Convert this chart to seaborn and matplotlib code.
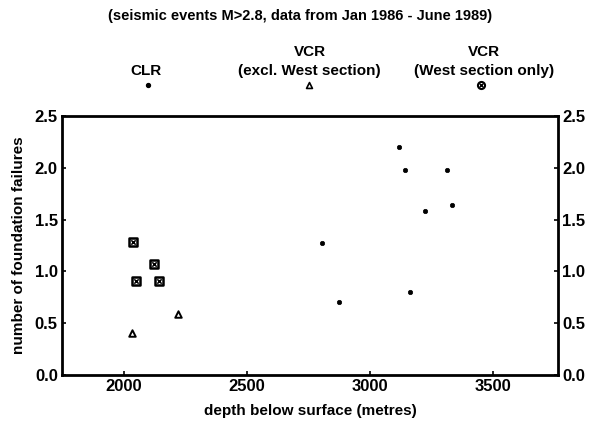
import matplotlib
matplotlib.use("Agg")
import matplotlib.pyplot as plt
import seaborn as sns
import pandas as pd

# CLR events
clr_depth = [2807, 2876, 3118, 3143, 3316, 3224, 3333, 3165]
clr_fail = [1.27, 0.70, 2.20, 1.98, 1.98, 1.58, 1.64, 0.80]
# VCR, excluding the West section
vcr_depth = [2035, 2223]
vcr_fail = [0.41, 0.59]
# VCR, West section only
west_depth = [2040, 2124, 2050, 2145]
west_fail = [1.28, 1.07, 0.91, 0.91]

y_ticks = [0.0, 0.5, 1.0, 1.5, 2.0, 2.5]
x_ticks = [2000, 2500, 3000, 3500]

sns.set_theme(style="white")
plt.rcParams["font.family"] = ["Liberation Sans", "DejaVu Sans"]
plt.rcParams["text.color"] = "black"
plt.rcParams["axes.labelcolor"] = "black"
plt.rcParams["xtick.color"] = "black"
plt.rcParams["ytick.color"] = "black"

fig = plt.figure(figsize=(5.94, 4.25), dpi=100)
ax = fig.add_axes([0.1044, 0.1176, 0.835, 0.6095])

clr = pd.DataFrame({"depth": clr_depth, "fail": clr_fail})
vcr = pd.DataFrame({"depth": vcr_depth, "fail": vcr_fail})
west = pd.DataFrame({"depth": west_depth, "fail": west_fail})

sns.scatterplot(data=clr, x="depth", y="fail", ax=ax, marker="o", s=10,
                color="black", edgecolor="black", linewidth=0.5)
sns.scatterplot(data=vcr, x="depth", y="fail", ax=ax, marker="^", s=22,
                facecolor="white", edgecolor="black", linewidth=1.4)
sns.scatterplot(data=west, x="depth", y="fail", ax=ax, marker="s", s=28,
                facecolor="white", edgecolor="black", linewidth=1.8)
sns.scatterplot(data=west, x="depth", y="fail", ax=ax, marker="x", s=10,
                color="black", linewidth=1.1)

ax.set_xlim(1750, 3765)
ax.set_ylim(0.0, 2.5)
ax.set_xticks(x_ticks)
ax.set_yticks(y_ticks)
ax.set_yticklabels([f"{v:.1f}" for v in y_ticks])
ax.set_xlabel("depth below surface (metres)", fontsize=11, labelpad=7,
              fontweight="bold")
ax.set_ylabel("number of foundation failures", fontsize=11, labelpad=6,
              fontweight="bold")

for side in ["left", "right", "top", "bottom"]:
    ax.spines[side].set_visible(True)
    ax.spines[side].set_color("black")
    ax.spines[side].set_linewidth(2.0)

ax.tick_params(axis="both", direction="in", length=3, width=1.2,
               colors="black", labelsize=12, pad=3)
ax.tick_params(axis="y", left=True, right=True, labelleft=True,
               labelright=True)
ax.tick_params(axis="x", bottom=True, top=False)
for lbl in ax.get_xticklabels() + ax.get_yticklabels():
    lbl.set_fontweight("bold")

# Title and key across the top
fig.text(0.505, 0.963, "(seismic events M>2.8, data from Jan 1986 - June 1989)",
         ha="center", va="center", fontsize=10.5, fontweight="bold")

key_y_text = 0.833
fig.text(0.246, key_y_text, "CLR", ha="center", va="center", fontsize=11,
         fontweight="bold")
fig.text(0.521, 0.877, "VCR", ha="center", va="center", fontsize=11,
         fontweight="bold")
fig.text(0.521, key_y_text, "(excl. West section)", ha="center", va="center",
         fontsize=11, fontweight="bold")
fig.text(0.815, 0.877, "VCR", ha="center", va="center", fontsize=11,
         fontweight="bold")
fig.text(0.815, key_y_text, "(West section only)", ha="center", va="center",
         fontsize=11, fontweight="bold")

key_ax = fig.add_axes([0, 0.78, 1, 0.04])
key_ax.set_xlim(0, 1)
key_ax.set_ylim(0, 1)
key_ax.axis("off")
key_ax.scatter([0.249], [0.5], marker="o", s=8, color="black")
key_ax.scatter([0.521], [0.5], marker="^", s=18, facecolor="white",
               edgecolor="black", linewidth=1.2)
key_ax.scatter([0.81], [0.5], marker="o", s=26, facecolor="white",
               edgecolor="black", linewidth=1.5)
key_ax.scatter([0.81], [0.5], marker="x", s=9, color="black", linewidth=1.0)

fig.savefig("out.png", dpi=100)
